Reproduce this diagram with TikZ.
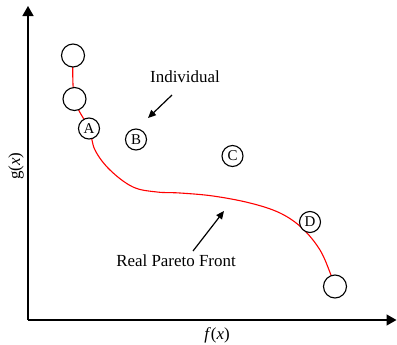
\documentclass[tikz,border=0pt]{standalone}
\usepackage{fontspec}
\setmainfont{Liberation Serif}
\usetikzlibrary{arrows.meta, positioning}

\begin{document}
\begin{tikzpicture}[x=1bp, y=-1bp,
  axis/.style={line width=1.5bp, -{Triangle[length=10bp, width=11bp]}},
  front/.style={red, line width=1.1bp},
  pointer/.style={line width=1.2bp, -{Triangle[length=8bp, width=7bp]}},
  bigdot/.style={circle, draw, line width=1.1bp, fill=white, minimum size=23bp, inner sep=0pt},
  smalldot/.style={circle, draw, line width=1.1bp, fill=white, minimum size=21bp,
                   inner sep=0pt, font=\fontsize{15}{15}\selectfont},
  lbl/.style={font=\fontsize{17}{19}\selectfont}]
  \useasboundingbox (0,0) rectangle (397,345);
  % axes
  \coordinate (origin) at (28,320);
  \coordinate (ytop) at (28,6);
  \coordinate (xend) at (396.5,320);
  \draw[axis] (origin) -- (ytop);
  \draw[axis] (origin) -- (xend);
  \node[lbl, rotate=90] (gx) at (16,166) {g(\textit{x})};
  \node[lbl] (fx) at (217,335) {\textit{f}(\textit{x})};
  % real front
  \draw[front] plot[smooth, tension=0.6] coordinates {(73,56) (74.5,99) (89,128.5) (95,150)
    (110,170) (133,187) (157,192) (180,193) (213,196) (250,203) (280,213) (302,228)
    (320,250) (331,275) (335,286)};
  % individuals
  \foreach \n/\x/\y in {p1/73/55.5, p2/74.5/99, p3/335/286.5}{
    \node[bigdot] (\n) at (\x,\y) {};
  }
  \foreach \n/\x/\y in {A/89/128.5, B/136/139.5, C/232.5/156, D/310/222}{
    \node[smalldot] (\n) at (\x,\y) {\n};
  }
  % labels with pointers
  \node[lbl] (ind) at (185,77) {Individual};
  \node[lbl] (rpf) at (176,261) {Real Pareto Front};
  \coordinate (indtail) at (172,95);
  \coordinate (indtip) at (148,118);
  \coordinate (rpftail) at (193,251);
  \coordinate (rpftip) at (224,211);
  \draw[pointer] (indtail) -- (indtip);
  \draw[pointer] (rpftail) -- (rpftip);
\end{tikzpicture}
\end{document}
